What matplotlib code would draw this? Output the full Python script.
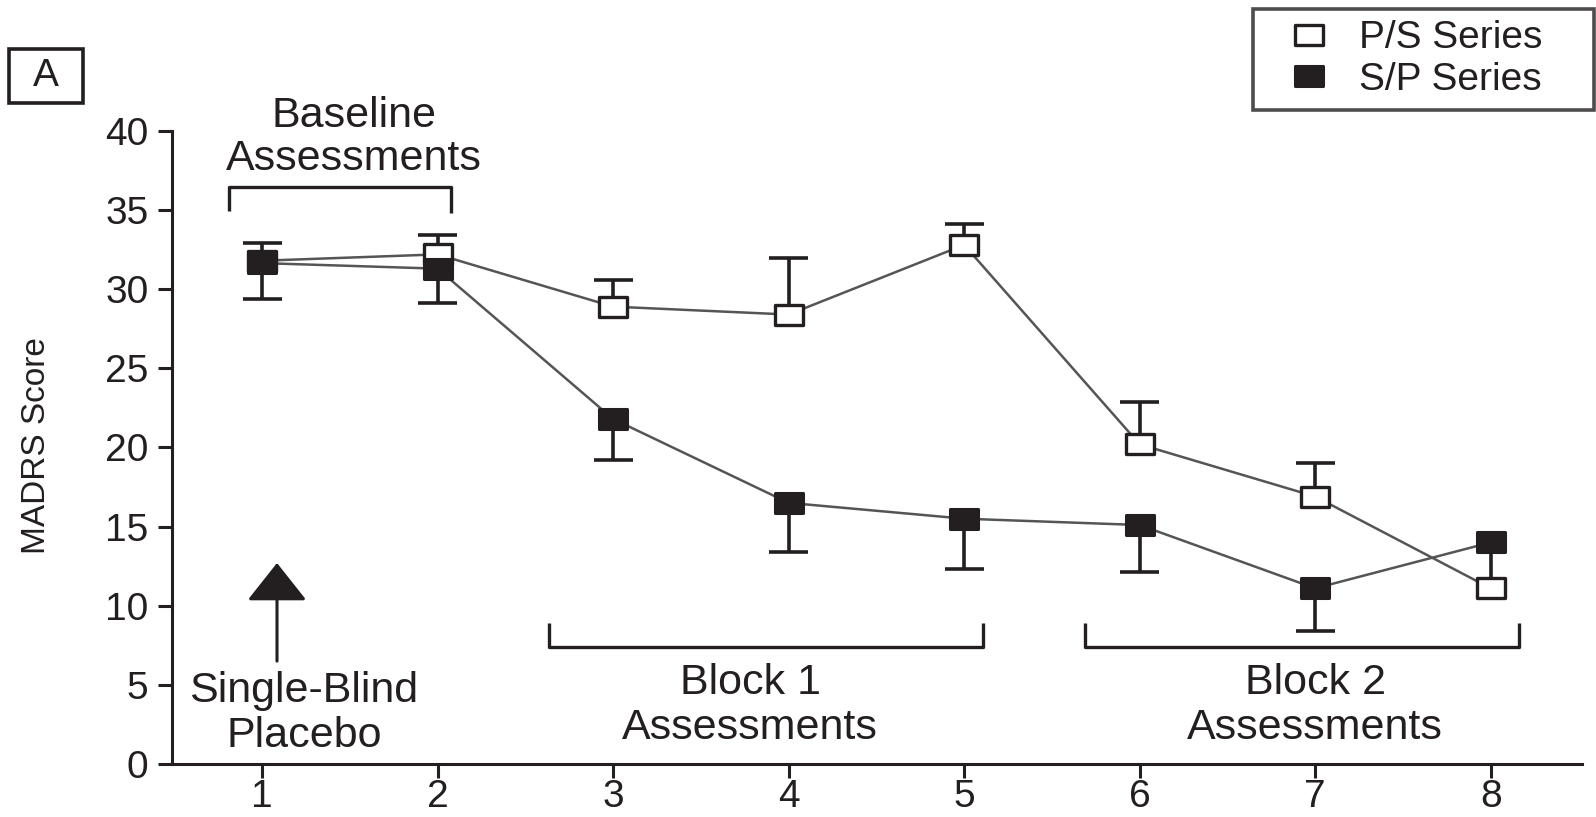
import numpy as np
import matplotlib
matplotlib.use('Agg')
import matplotlib.pyplot as plt
from matplotlib.path import Path
from matplotlib.lines import Line2D
from matplotlib.patches import Rectangle
from matplotlib import font_manager

plt.rcParams['font.family'] = ['Liberation Sans', 'DejaVu Sans']

# data (MADRS score per assessment)
visits = [1, 2, 3, 4, 5, 6, 7, 8]
ps_mean = [31.8, 32.2, 28.9, 28.4, 32.8, 20.2, 16.9, 11.1]
ps_upper = [32.9, 33.4, 30.6, 32.0, 34.1, 22.9, 19.0, 13.7]
sp_mean = [31.65, 31.3, 21.8, 16.5, 15.5, 15.1, 11.1, 14.0]
sp_lower = [29.4, 29.1, 19.2, 13.4, 12.3, 12.1, 8.4, 14.0]
yticks = [0, 5, 10, 15, 20, 25, 30, 35, 40]

ink = '#231f20'
linecol = '#555555'

# slightly flattened square marker
box = Path([(-1, -0.71), (1, -0.71), (1, 0.71), (-1, 0.71), (-1, -0.71)],
           [Path.MOVETO, Path.LINETO, Path.LINETO, Path.LINETO, Path.CLOSEPOLY])

fig = plt.figure(figsize=(15.96, 8.17), dpi=100)
ax = fig.add_axes([0.1078, 0.0649, 0.9912 - 0.1078, 0.8397 - 0.0649])

x = np.array(visits)
capw = 0.111

# P/S series: upper error bars (cap hidden where it ends inside the other marker)
ps_cap = [u if abs(u - s) > 0.8 else np.nan for u, s in zip(ps_upper, sp_mean)]
ax.vlines(x, ps_mean, ps_upper, color=ink, lw=2.6, zorder=2)
ax.hlines(ps_cap, x - capw, x + capw, color=ink, lw=2.6, zorder=2)
ax.plot(x, ps_mean, color=linecol, lw=1.8, zorder=3)
ax.plot(x, ps_mean, ls='none', marker=box, ms=20, mew=2.4, mec=ink, mfc='white', zorder=4)

# S/P series: lower error bars
sp_low_show = [l if l < m else np.nan for l, m in zip(sp_lower, sp_mean)]
ax.vlines(x, sp_low_show, sp_mean, color=ink, lw=2.6, zorder=5)
ax.hlines(sp_low_show, x - capw, x + capw, color=ink, lw=2.6, zorder=5)
ax.plot(x, sp_mean, color=linecol, lw=1.8, zorder=6)
ax.plot(x, sp_mean, ls='none', marker=box, ms=20, mew=2.2, mec=ink, mfc=ink, zorder=7)

ax.set_xlim(0.487, 8.52)
ax.set_ylim(0, 40)
ax.set_xticks(visits)
ax.set_yticks(yticks)
ax.tick_params(axis='both', direction='out', length=10, width=2.2, color=ink,
               labelsize=28, labelcolor=ink)
ax.tick_params(axis='y', pad=7)
ax.tick_params(axis='x', pad=1)
for s in ['top', 'right']:
    ax.spines[s].set_visible(False)
for s in ['left', 'bottom']:
    ax.spines[s].set_linewidth(2.2)
    ax.spines[s].set_color(ink)

# y label (condensed look in the original)
names = {f.name for f in font_manager.fontManager.ttflist}
lab_fam = ['Liberation Sans Narrow'] if 'Liberation Sans Narrow' in names else ['Liberation Sans']
fig.text(37 / 1596, 1 - 446 / 817, 'MADRS Score', rotation=90, ha='center', va='center',
         fontsize=27 if lab_fam[0].endswith('Narrow') else 24, family=lab_fam, color=ink)

# annotation brackets and labels
br = dict(color=ink, lw=2.4, clip_on=False, solid_capstyle='butt')
ax.plot([0.812, 0.812, 2.077, 2.077], [34.95, 36.46, 36.46, 34.8], **br)
ax.plot([2.635, 2.635, 5.108, 5.108], [8.91, 7.39, 7.39, 8.91], **br)
ax.plot([5.69, 5.69, 8.162, 8.162], [8.91, 7.39, 7.39, 8.91], **br)

tx = dict(fontsize=31, color=ink, ha='center', va='baseline', clip_on=False)
ax.text(1.521, 40.25, 'Baseline', **tx)
ax.text(1.521, 37.54, 'Assessments', **tx)
ax.text(1.235, 3.92, 'Single-Blind', **tx)
ax.text(1.24, 1.07, 'Placebo', **tx)
ax.text(3.78, 4.42, 'Block 1', **tx)
ax.text(3.78, 1.58, 'Assessments', **tx)
ax.text(7.0, 4.42, 'Block 2', **tx)
ax.text(7.0, 1.58, 'Assessments', **tx)

ax.annotate('', xy=(1.085, 12.7), xytext=(1.085, 6.5),
            arrowprops=dict(arrowstyle='-|>,head_length=1.2,head_width=0.95',
                            mutation_scale=20, lw=2.2, color=ink,
                            shrinkA=0, shrinkB=0))

# panel label
fig.patches.append(Rectangle((9 / 1596, 1 - 103 / 817), 74 / 1596, 54 / 817,
                             transform=fig.transFigure, fill=False, lw=2.6, ec=ink))
fig.text(46 / 1596, 1 - 76 / 817, 'A', fontsize=28, ha='center', va='center', color=ink)

# legend
handles = [Line2D([], [], ls='none', marker=box, ms=20, mew=2.4, mec=ink, mfc='white'),
           Line2D([], [], ls='none', marker=box, ms=20, mew=2.2, mec=ink, mfc=ink)]
leg = fig.legend(handles, ['P/S Series', 'S/P Series'], loc='upper left',
                 bbox_to_anchor=(1253 / 1596, 0.5, (1594 - 1253) / 1596, 1 - 8.5 / 817 - 0.5),
                 mode='expand', borderaxespad=0, fontsize=28, frameon=True, fancybox=False,
                 borderpad=0.3, handlelength=2.3, handletextpad=0.12, labelspacing=0.15,
                 numpoints=1)
leg.get_frame().set_edgecolor(ink)
leg.get_frame().set_linewidth(2.6)
for t in leg.get_texts():
    t.set_color(ink)

fig.savefig('out.png', dpi=100)
